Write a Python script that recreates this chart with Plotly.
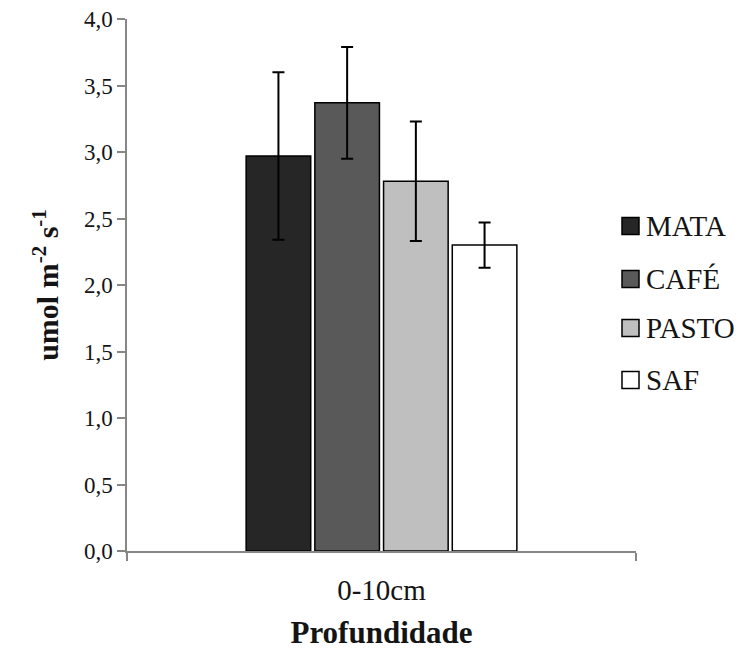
import plotly.graph_objects as go

# Soil CO2 efflux by land use, 0-10 cm depth
depth = ["0-10cm"]
land_uses = ["MATA", "CAFÉ", "PASTO", "SAF"]
means = [2.97, 3.37, 2.78, 2.30]
errors = [0.63, 0.42, 0.45, 0.17]
fills = ["#262626", "#595959", "#bfbfbf", "#ffffff"]

y_ticks = [0.0, 0.5, 1.0, 1.5, 2.0, 2.5, 3.0, 3.5, 4.0]
y_tick_text = [f"{v:.1f}".replace(".", ",") for v in y_ticks]

W, H = 747, 652
L, R, T, B = 127, 111, 19, 101
SERIF = "Liberation Serif, Times New Roman, serif"
TEXT = "#141414"
AXIS = "#868686"

fig = go.Figure()
for name, m, e, c in zip(land_uses, means, errors, fills):
    fig.add_trace(go.Bar(
        x=depth, y=[m], name=name, showlegend=False,
        marker=dict(color=c, line=dict(color="#000000", width=1.5)),
        error_y=dict(type="data", array=[e], visible=True,
                     color="#000000", thickness=2, width=6),
    ))

# legend: square swatch + label per land use
pw, ph = W - L - R, H - T - B
legend_rows = [226, 279, 328, 380]
for name, c, yc in zip(land_uses, fills, legend_rows):
    x0, x1 = 622, 639
    fig.add_shape(type="rect", xref="paper", yref="paper",
                  x0=(x0 - L) / pw, x1=(x1 - L) / pw,
                  y0=(H - B - (yc + 8.5)) / ph, y1=(H - B - (yc - 8.5)) / ph,
                  fillcolor=c, line=dict(color="#000000", width=1.5))
    fig.add_annotation(xref="paper", yref="paper",
                       x=(644 - L) / pw, y=(H - B - yc) / ph,
                       text=name, showarrow=False, xanchor="left", yanchor="middle",
                       font=dict(family=SERIF, size=29, color=TEXT))

fig.update_layout(
    width=W, height=H,
    margin=dict(l=L, r=R, t=T, b=B, pad=0, autoexpand=False),
    paper_bgcolor="white", plot_bgcolor="white",
    barmode="group", bargap=0.46, bargroupgap=0.06,
    showlegend=False,
    font=dict(family=SERIF, color=TEXT),
)
fig.update_xaxes(
    type="category", tickson="boundaries", automargin=False,
    showline=True, linecolor=AXIS, linewidth=1.5,
    ticks="outside", ticklen=8, tickcolor=AXIS, tickwidth=1.5,
    tickfont=dict(family=SERIF, size=29, color=TEXT),
    ticklabelstandoff=12,
    showgrid=False, zeroline=False,
    title=dict(text="Profundidade", standoff=17,
               font=dict(family=SERIF, size=31, color=TEXT, weight="bold")),
)
fig.update_yaxes(
    range=[0, 4.0], tickvals=y_ticks, ticktext=y_tick_text, automargin=False,
    showline=True, linecolor=AXIS, linewidth=1.5,
    ticks="outside", ticklen=8, tickcolor=AXIS, tickwidth=1.5,
    tickfont=dict(family=SERIF, size=23, color=TEXT),
    ticklabelstandoff=0,
    showgrid=False, zeroline=False,
    title=dict(text="umol m<sup>-2</sup> s<sup>-1</sup>", standoff=16,
               font=dict(family=SERIF, size=30, color=TEXT, weight="bold")),
)

fig.write_html("out.html")
